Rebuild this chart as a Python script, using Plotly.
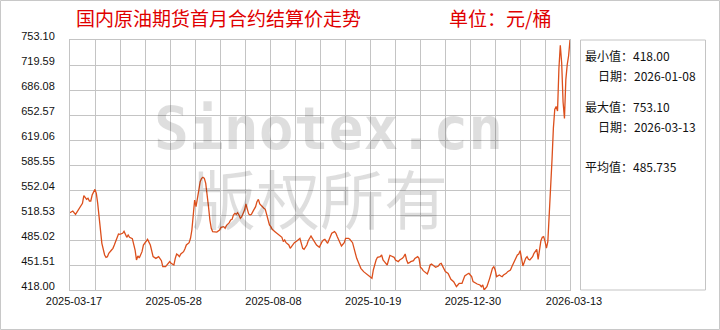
import plotly.graph_objects as go
import pandas as pd

# ---------------- data ----------------
start_date = "2025-03-17"
day_offsets = [
    0, 2, 4, 6, 8, 9, 10, 12, 13, 14, 15, 16, 18, 19, 20, 21, 22, 23, 25, 26, 27, 28, 30, 31, 32, 34, 35, 36,
    38, 39, 40, 41, 42, 43, 45, 46, 47, 48, 49, 50, 51, 52, 53, 55, 56, 58, 59, 60, 62, 63, 64, 66, 67, 69,
    70, 72, 73,
    75, 76, 77, 78, 79, 80, 82, 83, 84, 86, 87, 88, 89, 90, 91, 92, 93, 94, 95, 96, 97, 98, 99, 100, 101,
    102, 103, 105, 106, 108, 109, 111, 112, 113, 115, 116, 117, 118, 119, 120, 121, 122, 123, 124, 125, 126,
    127, 128, 129, 130, 131, 132, 134, 135, 136, 137, 139, 140, 141, 142, 143, 144, 145,
    146, 148, 150, 151, 153, 154, 155, 156, 158, 159, 161, 162, 164, 165, 166, 167, 168, 169, 171, 172, 174,
    175, 177, 178, 180, 181, 182, 183, 184, 186, 187, 188, 189, 191, 192, 193, 195, 196, 198, 199, 201, 202,
    204, 205, 206, 207, 209, 210, 212, 213, 215, 216, 218,
    219, 220, 221, 222, 224, 225, 226, 227, 228, 229, 230, 231, 232, 234, 235, 237, 238, 240, 241, 242, 243,
    244, 245, 246, 248, 249, 251, 252, 253, 254, 255, 257, 258, 259, 260, 261, 263, 264, 266, 267, 268, 269,
    270, 271, 273, 274, 275, 277, 278, 279, 280, 281, 283, 284, 285, 287, 288, 289, 290,
    291, 293, 294, 296, 297, 298, 299, 301, 302, 303, 304, 305, 306, 307, 308, 309, 310, 311, 312, 313, 315,
    316, 317, 318, 319, 320, 321, 322, 323, 324, 325, 327, 328, 329, 330, 331, 332, 333, 334, 335, 336, 337,
    338, 339, 340, 341, 342, 343, 344, 345, 346, 347, 348, 349, 350, 351, 352, 353, 354, 355, 356, 357, 358,
    359, 360, 361,
]
prices = [
    521.7, 523.9, 519.4, 525.2, 529.7, 534.2, 544.4, 539.5, 540.9, 537.3, 537.3, 545.3, 552.9, 547.6, 534.2,
    516.3, 498.4, 480.6, 464.9, 461.8, 462.7, 467.1, 471.6, 473.9, 478.3, 489.5, 493.1, 492.6,
    494.0, 496.6, 493.1, 488.6, 491.7, 488.6, 486.8, 480.6, 471.6, 458.2, 463.6, 460.9, 464.9, 469.4, 478.3,
    482.8, 485.9, 478.3, 469.4, 462.7, 460.4, 461.8, 462.7, 457.3, 449.3, 449.3,
    452.0, 456.0, 453.7,
    451.5, 460.4, 466.3, 464.9, 462.7, 466.3, 469.4, 473.4, 478.3, 481.4, 487.3, 498.4, 516.3, 538.6, 529.7,
    538.6, 552.0, 563.2, 567.7, 569.0, 567.7, 561.0, 547.6, 529.7, 511.8,
    500.7, 496.2, 495.3, 495.7, 498.4, 502.0, 502.9, 500.7, 504.7, 508.3, 511.8, 512.7, 518.5, 520.8, 519.4,
    521.7, 518.5, 514.1, 516.3, 520.8, 525.2,
    533.3, 525.2, 519.9, 518.5, 519.4, 523.0, 529.7, 536.4, 539.5, 533.3, 528.8, 527.5, 526.1, 518.5, 511.8,
    505.1, 502.9,
    499.3, 496.2, 493.1, 491.7, 488.6, 482.8, 485.0, 481.4, 478.3, 473.9, 478.3, 481.4, 484.1, 485.9, 487.3,
    480.6, 473.9, 472.5, 478.3, 484.1, 490.4,
    487.3, 480.6, 478.3, 475.2, 479.7, 482.8, 485.0, 485.9, 480.6, 485.9, 489.5, 494.0, 496.2, 494.0, 489.5,
    481.4, 477.0, 481.4, 487.3, 487.3, 485.9,
    481.4, 473.9, 467.1, 460.4, 451.5, 447.0, 442.6, 441.2, 438.1, 435.9, 433.6,
    444.8, 453.7, 458.2, 461.8, 462.7, 464.9, 458.2, 456.0, 453.7, 451.5, 458.2, 464.5, 463.6, 461.8, 458.2,
    456.0, 458.2, 460.4, 462.7, 466.3, 458.2,
    453.7, 454.6, 456.0, 457.3, 460.4, 462.7, 460.4, 448.4, 447.0, 443.9, 441.2, 439.4, 444.8, 451.5, 452.9,
    449.3, 448.4, 450.2, 452.9, 453.7, 450.2,
    445.7, 442.6, 440.3, 435.9, 432.3, 429.2, 424.7, 422.5, 424.7, 426.9, 426.9, 432.3, 436.8, 439.4, 440.3,
    438.1, 435.9,
    429.2, 426.9, 426.0, 424.7, 422.5, 424.7, 418.0, 422.5, 426.9, 433.6, 440.3, 447.0, 449.3, 444.8, 435.9,
    436.8, 438.1, 436.8, 435.9, 438.1, 440.3,
    442.6, 443.9, 444.8, 449.3, 453.7, 458.2, 461.3, 464.9, 466.3, 470.7, 450.2, 456.0, 460.4, 462.7, 459.1,
    458.2, 460.4, 462.7, 467.1, 469.4, 472.5,
    459.1, 471.6, 484.1, 488.6, 489.5, 482.8, 474.0, 482.8, 514.0, 550.0, 592.0, 635.0, 660.0, 664.0, 658.0,
    715.0, 746.0, 722.0, 670.0, 648.0, 700.0,
    720.0, 732.0, 753.1,
]

y_tick_values = [418.00, 451.51, 485.02, 518.53, 552.04, 585.55, 619.06, 652.57, 686.08, 719.59, 753.10]
y_tick_labels = ["418.00", "451.51", "485.02", "518.53", "552.04", "585.55",
                 "619.06", "652.57", "686.08", "719.59", "753.10"]
x_tick_dates = ["2025-03-17", "2025-05-28", "2025-08-08", "2025-10-19", "2025-12-30", "2026-03-13"]

title_text = "国内原油期货首月合约结算价走势"
unit_text = "单位：元/桶"
stat_lines = ["最小值：418.00", "日期：2026-01-08", "最大值：753.10", "日期：2026-03-13", "平均值：485.735"]
watermark_lines = ["Sinotex.cn", "版权所有"]

# ---------------- figure ----------------
dates = pd.Timestamp(start_date) + pd.to_timedelta(day_offsets, unit="D")

x_start = pd.Timestamp(x_tick_dates[0])
x_end = pd.Timestamp(x_tick_dates[-1])
span = x_end - x_start
minor_grid = [x_start + span * i / 20 for i in range(21)]

GRID = "#c4c4c4"
LINE = "#dc4f1c"
RED = "#e00000"
CJK = "Noto Sans CJK SC"

fig = go.Figure()
fig.add_trace(go.Scatter(
    x=dates, y=prices, mode="lines",
    line=dict(color=LINE, width=1.3),
    hoverinfo="skip", showlegend=False,
))

fig.update_layout(
    width=720, height=330,
    margin=dict(l=70, r=150, t=40, b=40),
    paper_bgcolor="white", plot_bgcolor="white",
    showlegend=False,
    xaxis=dict(
        type="date",
        range=[x_start, x_end],
        tickmode="array", tickvals=x_tick_dates, ticktext=x_tick_dates,
        showgrid=False, zeroline=False,
        showline=True, linecolor=GRID, linewidth=1, mirror=True,
        ticks="", ticklabelshift=4, ticklabelstandoff=1,
        tickfont=dict(family="Liberation Sans", size=11, color="#111111"),
        minor=dict(tickmode="array", tickvals=minor_grid, showgrid=True,
                   gridcolor=GRID, gridwidth=1, ticks=""),
        fixedrange=True,
    ),
    yaxis=dict(
        range=[y_tick_values[0], y_tick_values[-1]],
        tickmode="array", tickvals=y_tick_values, ticktext=y_tick_labels,
        showgrid=True, gridcolor=GRID, gridwidth=1, zeroline=False,
        showline=True, linecolor=GRID, linewidth=1, mirror=True,
        ticks="", ticklabelshift=-4, ticklabelstandoff=12,
        tickfont=dict(family="Liberation Sans", size=11, color="#111111"),
        fixedrange=True,
    ),
)

def px_x(px):
    return (px - 70) / 500.0

def px_y(py):
    return (290 - py) / 250.0

annotations = []
# watermark
annotations.append(dict(text=watermark_lines[0], xref="paper", yref="paper",
                        x=px_x(328), y=px_y(129), xanchor="center", yanchor="middle",
                        showarrow=False,
                        font=dict(family="DejaVu Sans Mono", size=58, color="rgba(0,0,0,0.13)",
                                  weight="bold")))
annotations.append(dict(text=watermark_lines[1], xref="paper", yref="paper",
                        x=px_x(320), y=px_y(196), xanchor="center", yanchor="middle",
                        showarrow=False,
                        font=dict(family=CJK, size=64, color="rgba(0,0,0,0.13)")))
# title
annotations.append(dict(text=title_text, xref="paper", yref="paper",
                        x=px_x(74), y=px_y(18), xanchor="left", yanchor="middle",
                        showarrow=False, font=dict(family=CJK, size=19, color=RED)))
annotations.append(dict(text=unit_text, xref="paper", yref="paper",
                        x=px_x(447), y=px_y(18), xanchor="left", yanchor="middle",
                        showarrow=False, font=dict(family=CJK, size=19, color=RED)))
# stats panel
stat_pos = [(583, 56), (596, 75), (583, 106), (596, 126), (583, 166)]
for txt, (sx, sy) in zip(stat_lines, stat_pos):
    annotations.append(dict(text=txt, xref="paper", yref="paper",
                            x=px_x(sx), y=px_y(sy), xanchor="left", yanchor="middle",
                            showarrow=False,
                            font=dict(family=CJK, size=12, color="#111111")))
fig.update_layout(annotations=annotations)

shapes = [
    # stats box
    dict(type="rect", xref="paper", yref="paper",
         x0=px_x(580.5), x1=px_x(705.5), y0=px_y(290), y1=px_y(40),
         line=dict(color=GRID, width=1), fillcolor="rgba(0,0,0,0)"),
    # outer border
    dict(type="rect", xref="paper", yref="paper",
         x0=px_x(0.5), x1=px_x(719.5), y0=px_y(329.5), y1=px_y(0.5),
         line=dict(color="#c8c8c8", width=1), fillcolor="rgba(0,0,0,0)"),
]
fig.update_layout(shapes=shapes)

fig.write_html("out.html")
